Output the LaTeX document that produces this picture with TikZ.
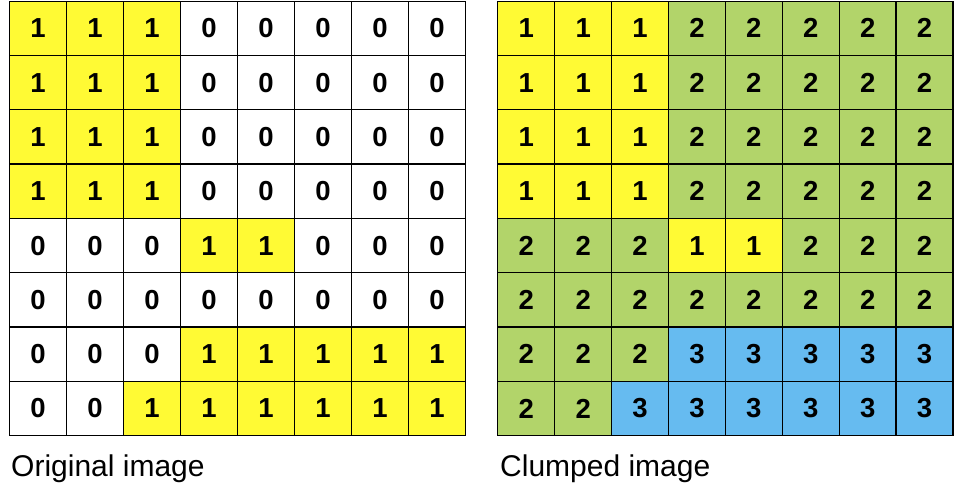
\documentclass[tikz,border=0pt]{standalone}
\usepackage{fontspec}
\setmainfont{Liberation Sans}
\definecolor{val0}{RGB}{255,255,255}
\definecolor{val1}{RGB}{255,250,52}
\definecolor{val2}{RGB}{178,212,106}
\definecolor{val3}{RGB}{102,187,240}
\tikzset{
  cell/.style={draw=black, line width=1.3pt, minimum width=57pt, minimum height=54.3pt,
    inner sep=0pt, font=\fontsize{27.5}{27.5}\selectfont\bfseries},
  caption/.style={anchor=base west, inner sep=0pt, font=\fontsize{30}{30}\selectfont}
}
\begin{document}
\begin{tikzpicture}[x=1pt,y=-1pt]
\useasboundingbox (0,0) rectangle (955,490);
% original image
\foreach \row [count=\r from 0] in {
  {1,1,1,0,0,0,0,0},{1,1,1,0,0,0,0,0},{1,1,1,0,0,0,0,0},{1,1,1,0,0,0,0,0},
  {0,0,0,1,1,0,0,0},{0,0,0,0,0,0,0,0},{0,0,0,1,1,1,1,1},{0,0,1,1,1,1,1,1}} {
  \foreach \v [count=\c from 0] in \row {
    \node[cell, fill=val\v] (o-\r-\c) at ({9.5+28.5+57*\c},{1.2+27.15+54.3*\r}) {\v};
  }
}
% clumped image
\foreach \row [count=\r from 0] in {
  {1,1,1,2,2,2,2,2},{1,1,1,2,2,2,2,2},{1,1,1,2,2,2,2,2},{1,1,1,2,2,2,2,2},
  {2,2,2,1,1,2,2,2},{2,2,2,2,2,2,2,2},{2,2,2,3,3,3,3,3},{2,2,3,3,3,3,3,3}} {
  \foreach \v [count=\c from 0] in \row {
    \node[cell, fill=val\v] (k-\r-\c) at ({497.8+28.45+56.9*\c},{1.2+27.15+54.3*\r}) {\v};
  }
}
\node[caption] (cap1) at (11,476) {Original image};
\node[caption] (cap2) at (500,476) {Clumped image};
\end{tikzpicture}
\end{document}
